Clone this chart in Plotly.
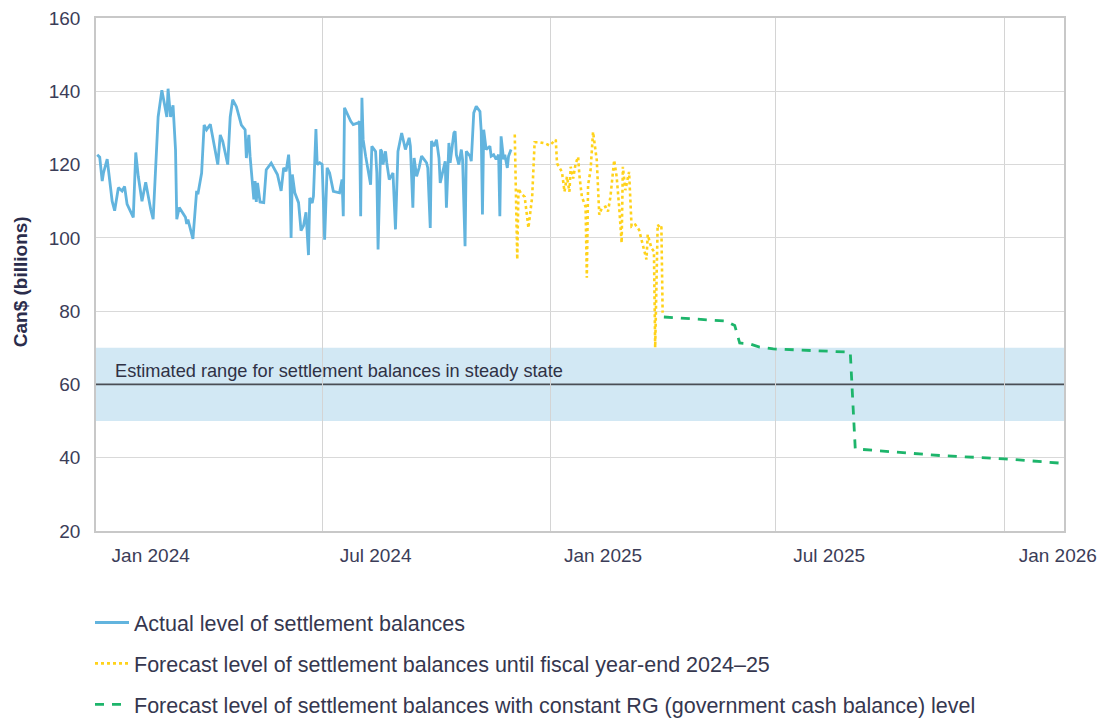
import plotly.graph_objects as go

# ---------------- data ----------------
actual_dates = [
    "2024-01-02", "2024-01-04", "2024-01-06", "2024-01-07", "2024-01-10", "2024-01-12", "2024-01-14",
    "2024-01-16", "2024-01-19", "2024-01-22", "2024-01-24", "2024-01-26", "2024-01-31", "2024-02-02",
    "2024-02-04", "2024-02-07", "2024-02-10", "2024-02-14", "2024-02-16", "2024-02-20", "2024-02-23",
    "2024-02-25", "2024-02-27", "2024-02-28", "2024-03-01", "2024-03-03", "2024-03-05", "2024-03-06",
    "2024-03-08", "2024-03-13", "2024-03-14", "2024-03-15", "2024-03-19", "2024-03-22", "2024-03-23",
    "2024-03-26", "2024-03-28", "2024-03-30", "2024-04-02", "2024-04-08", "2024-04-10", "2024-04-12",
    "2024-04-16", "2024-04-18", "2024-04-20", "2024-04-23", "2024-04-27", "2024-04-30", "2024-05-01",
    "2024-05-03", "2024-05-04", "2024-05-07", "2024-05-08", "2024-05-09", "2024-05-10", "2024-05-12",
    "2024-05-15", "2024-05-17", "2024-05-21", "2024-05-26", "2024-05-29", "2024-05-31", "2024-06-02",
    "2024-06-04", "2024-06-05", "2024-06-06", "2024-06-07", "2024-06-09", "2024-06-12", "2024-06-14",
    "2024-06-16", "2024-06-18", "2024-06-20", "2024-06-21", "2024-06-23", "2024-06-24", "2024-06-26",
    "2024-06-27", "2024-06-29", "2024-07-01", "2024-07-03", "2024-07-05", "2024-07-07", "2024-07-10",
    "2024-07-14", "2024-07-15", "2024-07-17", "2024-07-18", "2024-07-19", "2024-07-24", "2024-07-26",
    "2024-07-30", "2024-07-31", "2024-08-01", "2024-08-02", "2024-08-03", "2024-08-05", "2024-08-09",
    "2024-08-10", "2024-08-13", "2024-08-14", "2024-08-15", "2024-08-17", "2024-08-18", "2024-08-19",
    "2024-08-21", "2024-08-22", "2024-08-24", "2024-08-27", "2024-08-29", "2024-08-31", "2024-09-03",
    "2024-09-06", "2024-09-09", "2024-09-10", "2024-09-12", "2024-09-13", "2024-09-15", "2024-09-17",
    "2024-09-19", "2024-09-21", "2024-09-23", "2024-09-24", "2024-09-26", "2024-09-27", "2024-09-29",
    "2024-10-01", "2024-10-03", "2024-10-04", "2024-10-06", "2024-10-08", "2024-10-09", "2024-10-11",
    "2024-10-12", "2024-10-15", "2024-10-16", "2024-10-17", "2024-10-19", "2024-10-21", "2024-10-22",
    "2024-10-24", "2024-10-25", "2024-10-28", "2024-10-29", "2024-10-31", "2024-11-02", "2024-11-05",
    "2024-11-06", "2024-11-07", "2024-11-08", "2024-11-10", "2024-11-13", "2024-11-14", "2024-11-16",
    "2024-11-18", "2024-11-20", "2024-11-21", "2024-11-22", "2024-11-24", "2024-11-25", "2024-11-27",
    "2024-11-28", "2024-11-30",
]
actual_values = [
    122.7, 122.0, 115.5, 117.7, 121.5, 115.0, 110.0,
    107.4, 113.7, 112.8, 114.0, 109.2, 105.6, 123.3,
    116.8, 110.0, 115.2, 107.8, 105.1, 133.0, 140.3,
    136.7, 133.0, 140.7, 133.0, 136.2, 124.0, 105.1,
    108.3, 105.6, 103.8, 105.0, 99.7, 112.8, 111.9,
    117.7, 130.8, 129.5, 131.0, 120.0, 128.1, 126.3,
    120.0, 133.0, 137.7, 135.8, 130.8, 129.5, 121.8,
    128.1, 122.3, 110.5, 115.5, 109.8, 115.0, 109.8,
    109.6, 118.6, 120.4, 117.3, 112.8, 119.1, 118.2,
    122.7, 117.7, 100.0, 117.3, 112.3, 109.6, 102.0,
    103.3, 107.0, 95.3, 110.9, 109.5, 111.4, 129.7,
    120.0, 120.5, 120.0, 99.5, 119.1, 117.7, 112.7,
    112.5, 112.3, 115.9, 105.9, 135.5, 131.8, 130.9,
    131.4, 131.8, 105.9, 138.2, 126.8, 122.3, 114.5,
    125.0, 123.6, 117.7, 96.8, 124.1, 123.6, 120.0,
    123.6, 120.5, 115.9, 117.7, 102.3, 123.6, 128.6,
    124.1, 127.3, 125.0, 108.2, 121.8, 116.8, 119.1,
    122.3, 121.4, 120.5, 119.1, 102.7, 126.4, 125.0,
    126.8, 121.8, 115.0, 117.7, 120.9, 108.2, 125.9,
    120.5, 128.6, 129.1, 122.7, 120.0, 124.1, 121.4,
    97.7, 123.6, 122.3, 120.9, 134.1, 135.9, 134.5,
    129.1, 106.4, 129.5, 124.1, 125.0, 122.3, 122.7,
    121.4, 122.7, 105.9, 127.7, 121.4, 122.7, 119.1,
    122.3, 124.1,
]

fiscal_dates = [
    "2024-12-03", "2024-12-04", "2024-12-05", "2024-12-06", "2024-12-08", "2024-12-11", "2024-12-14",
    "2024-12-17", "2024-12-19", "2024-12-23", "2024-12-28", "2024-12-31", "2025-01-05", "2025-01-06",
    "2025-01-10", "2025-01-12", "2025-01-14", "2025-01-16", "2025-01-17", "2025-01-19", "2025-01-21",
    "2025-01-23", "2025-01-24", "2025-01-26", "2025-01-29", "2025-01-30", "2025-01-31", "2025-02-02",
    "2025-02-04", "2025-02-07", "2025-02-09", "2025-02-11", "2025-02-14", "2025-02-16", "2025-02-18",
    "2025-02-21", "2025-02-23", "2025-02-25", "2025-02-27", "2025-02-28", "2025-03-02", "2025-03-05",
    "2025-03-06", "2025-03-07", "2025-03-10", "2025-03-13", "2025-03-15", "2025-03-19", "2025-03-20",
    "2025-03-21", "2025-03-23", "2025-03-25", "2025-03-26", "2025-03-28", "2025-03-30", "2025-03-31",
    "2025-04-01",
]
fiscal_values = [
    128.2, 114.5, 94.1, 113.5, 112.1, 111.2, 102.7,
    111.2, 126.1, 126.1, 125.7, 125.2, 126.8, 120.3,
    118.0, 112.6, 116.7, 112.6, 119.4, 116.2, 120.3,
    122.1, 117.1, 111.2, 108.5, 89.1, 114.4, 118.5,
    128.9, 121.2, 106.3, 108.1, 108.5, 107.2, 111.2,
    121.2, 116.7, 108.5, 98.6, 119.4, 113.0, 118.0,
    108.5, 103.1, 103.6, 102.2, 99.5, 94.1, 100.9,
    99.5, 97.2, 96.3, 70.1, 103.6, 102.7, 103.1,
    79.6,
]

rg_dates = [
    "2025-04-02", "2025-05-22", "2025-05-29", "2025-06-02", "2025-06-10", "2025-06-18", "2025-06-29",
    "2025-07-26", "2025-08-30", "2025-09-03", "2025-09-07", "2025-11-10", "2026-01-01", "2026-02-16",
]
rg_values = [78.4, 77.3, 76.1, 71.3, 71.1, 70.2, 69.7, 69.3, 68.8, 42.5, 42.3, 40.6, 39.7, 38.5]

steady_low, steady_mid, steady_high = 50, 60, 70
steady_label = "Estimated range for settlement balances in steady state"
y_title = "Can$ (billions)"

series_names = [
    "Actual level of settlement balances",
    "Forecast level of settlement balances until fiscal year-end 2024–25",
    "Forecast level of settlement balances with constant RG (government cash balance) level",
]

tick_positions = ["2024-02-14", "2024-08-13", "2025-02-12", "2025-08-13", "2026-02-13"]
tick_labels = ["Jan 2024", "Jul 2024", "Jan 2025", "Jul 2025", "Jan 2026"]
grid_dates = ["2024-07-01", "2025-01-01", "2025-07-01", "2026-01-01"]
x_range = ["2024-01-01", "2026-02-18"]
y_ticks = [20, 40, 60, 80, 100, 120, 140, 160]
y_grid = [v for v in y_ticks if v != steady_mid]

# ---------------- figure ----------------
FONT = "Liberation Sans, Arial, sans-serif"
TXT = "#3b3d58"
W, H = 1098, 711   # page body adds an 8px offset

fig = go.Figure()
fig.add_trace(go.Scatter(
    x=actual_dates, y=actual_values, mode="lines", name=series_names[0],
    line=dict(color="#62b4de", width=2.8), legendgroup="a",
))
fig.add_trace(go.Scatter(
    x=fiscal_dates, y=fiscal_values, mode="lines", name=series_names[1],
    line=dict(color="#ffd21a", width=2.6, dash="dot"), legendgroup="b",
))
fig.add_trace(go.Scatter(
    x=rg_dates, y=rg_values, mode="lines", name=series_names[2],
    line=dict(color="#1db56b", width=2.8, dash="9px,8px"), legendgroup="c",
))

fig.add_shape(type="rect", xref="paper", x0=0, x1=1, yref="y", y0=steady_low, y1=steady_high,
              fillcolor="#d2e8f4", line=dict(width=0), layer="below")
fig.add_shape(type="line", xref="paper", x0=0, x1=1, yref="y", y0=steady_mid, y1=steady_mid,
              line=dict(color="#4a4e55", width=1.8), layer="between")
fig.add_annotation(xref="paper", x=0.0175, yref="y", y=steady_mid, text=steady_label,
                   showarrow=False, xanchor="left", yanchor="bottom", yshift=1,
                   font=dict(family=FONT, size=18.2, color="#2f3145"))
fig.add_annotation(xref="paper", x=-0.0785, yref="paper", y=0.485, text="<b>" + y_title + "</b>",
                   showarrow=False, textangle=-90, xanchor="center", yanchor="middle",
                   font=dict(family=FONT, size=19, color="#2b2d4c"))

fig.update_layout(
    width=W, height=H,
    margin=dict(l=88, r=42, t=10, b=188, autoexpand=False),
    paper_bgcolor="white", plot_bgcolor="white",
    font=dict(family=FONT, color=TXT),
    showlegend=True,
    legend=dict(
        xref="container", yref="container", x=82 / W, y=1 - 594 / H,
        xanchor="left", yanchor="top", orientation="v",
        traceorder="grouped", tracegroupgap=10,
        font=dict(family=FONT, size=21.5, color="#35374f"),
        itemwidth=34, bgcolor="rgba(0,0,0,0)",
    ),
    xaxis=dict(
        type="date", range=x_range,
        tickmode="array", tickvals=tick_positions, ticktext=tick_labels,
        showgrid=False, ticks="", ticklabelstandoff=6, ticklabeloverflow="allow",
        tickfont=dict(family=FONT, size=19, color=TXT),
        showline=True, linecolor="#c8c8c8", linewidth=1.5, mirror=True,
        minor=dict(tickmode="array", tickvals=grid_dates, showgrid=True,
                   gridcolor="#d4d4d4", gridwidth=1, ticks=""),
        zeroline=False,
    ),
    yaxis=dict(
        range=[20, 160], tickmode="array", tickvals=y_ticks,
        showgrid=False,
        ticks="", ticklabelstandoff=10, ticklabeloverflow="allow",
        tickfont=dict(family=FONT, size=19, color=TXT),
        showline=True, linecolor="#c8c8c8", linewidth=1.5, mirror=True,
        zeroline=False,
        minor=dict(tickmode="array", tickvals=y_grid, showgrid=True,
                   gridcolor="#d9d9d9", gridwidth=1, ticks=""),
    ),
)

fig.write_html("out.html")
